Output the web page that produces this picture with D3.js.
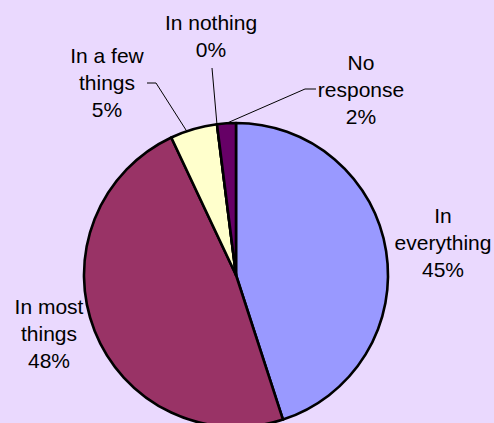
<!DOCTYPE html>
<html>
<head>
<meta charset="utf-8">
<script src="https://cdn.jsdelivr.net/npm/d3@7"></script>
<style>
  html, body { margin: 0; padding: 0; background: #EAD9FE; }
  svg { display: block; }
  text { font-family: "Liberation Sans", Arial, sans-serif; font-size: 21px; fill: #000; }
</style>
</head>
<body>
<svg id="chart" width="494" height="423"></svg>
<script>
// Survey answers and their shares (percent)
const categories = ["In everything", "In most things", "In a few things", "In nothing", "No response"];
const values = [45, 48, 5, 0, 2];
const colors = ["#9999FF", "#993366", "#FFFFCC", "#CCFFFF", "#660066"];
// Label text lines per category
const labelLines = [["In", "everything"], ["In most", "things"], ["In a few", "things"], ["In nothing"], ["No", "response"]];

const W = 494, H = 423;
const cx = 236, cy = 275, R = 152;

const svg = d3.select("#chart");
svg.append("rect").attr("width", W).attr("height", H).attr("fill", "#EAD9FE");

const pie = d3.pie().sort(null).value(d => d)(values);
const arc = d3.arc().innerRadius(0).outerRadius(R);

const g = svg.append("g").attr("transform", `translate(${cx},${cy})`);

g.selectAll("path.slice")
  .data(pie)
  .join("path")
  .attr("class", "slice")
  .attr("d", arc)
  .attr("fill", (d, i) => colors[i])
  .attr("stroke", "#000")
  .attr("stroke-width", 2.6)
  .attr("stroke-linejoin", "round");

// Label placement: centre x, first baseline (absolute coords)
const labelPos = [
  { x: 443, y: 223 },
  { x: 49, y: 314 },
  { x: 107, y: 63 },
  { x: 211, y: 30 },
  { x: 361, y: 70 }
];
const lineH = 27;

const fmt = d3.format(".0%");
labelLines.forEach((lines, i) => {
  const t = svg.append("text").attr("text-anchor", "middle");
  const all = lines.concat([fmt(values[i] / 100)]);
  all.forEach((s, k) => {
    t.append("tspan").attr("x", labelPos[i].x).attr("y", labelPos[i].y + k * lineH).text(s);
  });
});

// Leader lines for the small slices: label-side points, ending on the slice's outer edge
function edgePoint(d, frac) {
  const a = d.startAngle + (d.endAngle - d.startAngle) * frac;
  return [cx + R * Math.sin(a), cy - R * Math.cos(a)];
}
const leaders = [
  { i: 2, pts: [[147, 83], [156, 83]], frac: 0.35 },
  { i: 3, pts: [[212, 68]], frac: 0.5 },
  { i: 4, pts: [[316, 89], [305, 89]], frac: 0.5 }
];
leaders.forEach(l => {
  const end = edgePoint(pie[l.i], l.frac);
  const pts = l.pts.concat([end]);
  svg.append("path")
    .attr("d", d3.line()(pts))
    .attr("fill", "none")
    .attr("stroke", "#000")
    .attr("stroke-width", 1);
});
</script>
</body>
</html>
